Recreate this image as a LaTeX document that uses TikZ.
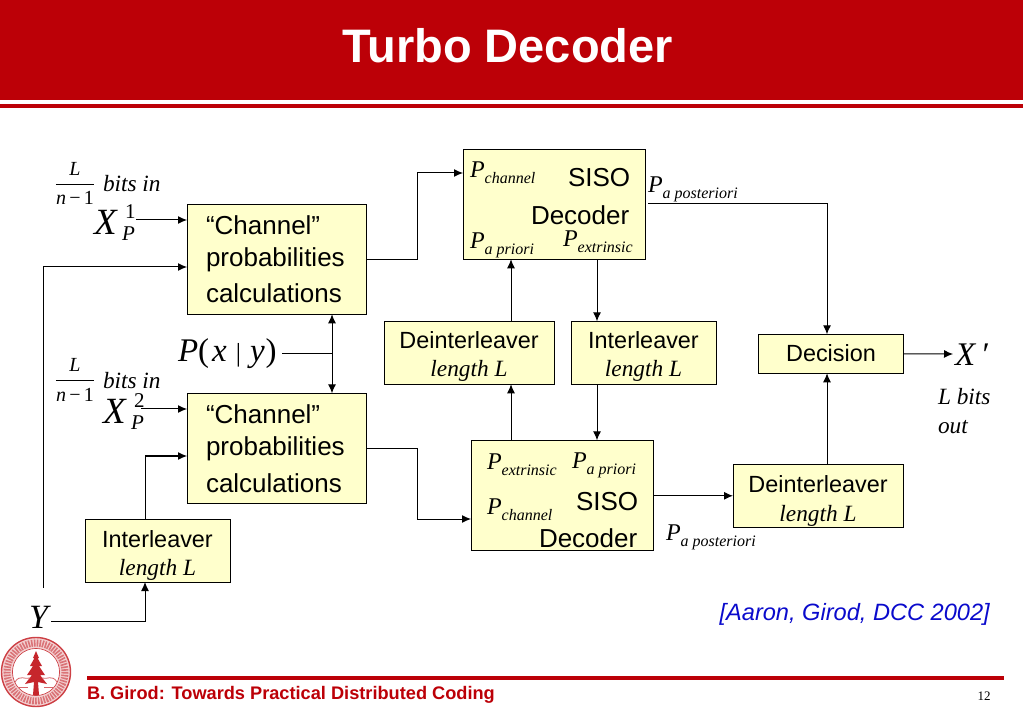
\documentclass[tikz,border=0pt]{standalone}
\usepackage{fontspec}
\setmainfont{Liberation Sans}
\newfontfamily\tms{Liberation Serif}
\usetikzlibrary{arrows.meta,calc}
\definecolor{hdr}{HTML}{BC0007}
\definecolor{boxy}{HTML}{FFFFCC}
\definecolor{cite}{HTML}{0A0ACC}
\newcommand\fs[1]{\fontsize{#1}{#1}\selectfont}
\newcommand\PS[1]{{\tms\itshape\fs{24}P\raisebox{-6pt}{\fs{16}#1}}}
\tikzset{
 x=1pt,y=-1pt,
 blk/.style={draw=black,fill=boxy,line width=1pt,rectangle,inner sep=0,outer sep=0},
 txt/.style={anchor=base west,inner sep=0,outer sep=0},
 mt/.style={txt,font=\fs{26}},
 st/.style={anchor=base,inner sep=0,outer sep=0,font=\fs{23.4}},
 it/.style={txt,font=\tms\itshape\fs{23.3}},
 arr/.style={line width=1pt,-{Latex[length=9pt,width=8pt]}},
 lin/.style={line width=1pt},
 darr/.style={line width=1pt,{Latex[length=9pt,width=8pt]}-{Latex[length=9pt,width=8pt]}},
 sealc/.style={draw=hdr!75!white,line width=0.8pt},
}
\begin{document}
\begin{tikzpicture}
\useasboundingbox (0,0) rectangle (1023,708);
% header
\fill[hdr] (0,0) rectangle (1023,100);
\fill[hdr] (0,104) rectangle (1023,108);
\node[anchor=base,inner sep=0,text=white,font=\bfseries\fs{47}] (title) at (507.5,63) {Turbo Decoder};
% footer
\fill[hdr] (87,676) rectangle (1004,680);
\node[txt,text=hdr,font=\bfseries\fs{18.2}] (foot) at (87,699) {B. Girod: Towards Practical Distributed Coding};
\node[anchor=base,inner sep=0,font=\tms\fs{13}] (page) at (984,700) {12};
\node[anchor=base east,inner sep=0,text=cite,font=\itshape\fs{23.6}] (citation) at (990,620) {[Aaron, Girod, DCC 2002]};
% seal
\fill[hdr!18!white] (36,672) circle (35);
\draw[sealc,line width=1.4pt] (36,672) circle (34.5);
\draw[hdr!55!white,line width=7pt,dash pattern=on 1.6pt off 1.2pt] (36,672) circle (29);
\draw[sealc] (36,672) circle (23.5);
\fill[white] (36,672) circle (23);
\fill[hdr!85!white] (36,651) -- (39,658) -- (37.5,658) -- (42,666) -- (39,666) -- (45,675) -- (40,675) -- (47,684) -- (38,682) -- (39,695) -- (33,695) -- (34,682) -- (25,684) -- (32,675) -- (27,675) -- (33,666) -- (30,666) -- (34.5,658) -- (33,658) -- cycle;
\draw[hdr!60!white,line width=0.8pt] (15,682) .. controls (20,674) and (25,680) .. (30,678);
\draw[hdr!60!white,line width=0.8pt] (42,678) .. controls (47,680) and (52,674) .. (57,682);
\draw[hdr!60!white,line width=0.8pt] (18,687) -- (28,687) (44,687) -- (54,687);
% blocks
\node[blk,minimum width=179pt,minimum height=110pt] (box1) at (276.5,259.3) {};
\node[blk,minimum width=179pt,minimum height=110pt] (box2) at (276.5,448.3) {};
\node[blk,minimum width=182pt,minimum height=110pt] (siso1) at (554,204.3) {};
\node[blk,minimum width=182pt,minimum height=110pt] (siso2) at (562,495.3) {};
\node[blk,minimum width=170pt,minimum height=63pt] (dei1) at (469,352.8) {};
\node[blk,minimum width=145pt,minimum height=63pt] (int1) at (643.5,352.8) {};
\node[blk,minimum width=145pt,minimum height=39pt] (dec) at (830.5,353.8) {};
\node[blk,minimum width=170pt,minimum height=63pt] (dei2) at (818,495.8) {};
\node[blk,minimum width=145pt,minimum height=63pt] (int2) at (157.5,550.8) {};
% block text
\node[mt] (c1a) at (206,235) {“Channel”};
\node[mt] (c1b) at (206,267) {probabilities};
\node[mt] (c1c) at (206,303) {calculations};
\node[mt] (c2a) at (206,424) {“Channel”};
\node[mt] (c2b) at (206,456) {probabilities};
\node[mt] (c2c) at (206,492) {calculations};
\node[mt] (s1a) at (568,187) {SISO};
\node[mt] (s1b) at (531,225) {Decoder};
\node[mt] (s2a) at (576,510) {SISO};
\node[mt] (s2b) at (539,547) {Decoder};
\node[txt] (p1) at (470,178) {\PS{channel}};
\node[txt] (p2) at (470,249) {\PS{a priori}};
\node[txt] (p3) at (563,247) {\PS{extrinsic}};
\node[txt] (p4) at (487,469) {\PS{extrinsic}};
\node[txt] (p5) at (572,468) {\PS{a priori}};
\node[txt] (p6) at (487,514) {\PS{channel}};
\node[txt] (p7) at (648,193) {\PS{a posteriori}};
\node[txt] (p8) at (666,540) {\PS{a posteriori}};
\node[st] (d1a) at (469,349) {Deinterleaver};
\node[st,font=\tms\itshape\fs{23.3}] (d1b) at (469,377) {length L};
\node[st] (i1a) at (643.5,349) {Interleaver};
\node[st,font=\tms\itshape\fs{23.3}] (i1b) at (643.5,377) {length L};
\node[st] (deca) at (831,362) {Decision};
\node[st] (d2a) at (818,493) {Deinterleaver};
\node[st,font=\tms\itshape\fs{23.3}] (d2b) at (818,521) {length L};
\node[st] (i2a) at (157.5,547) {Interleaver};
\node[st,font=\tms\itshape\fs{23.3}] (i2b) at (157.5,575) {length L};
% left labels
\node[anchor=base,inner sep=0,font=\tms\itshape\fs{20}] (l1) at (75,176) {L};
\node[anchor=base,inner sep=0,font=\tms\fs{20}] (n1) at (75,205) {\itshape n\,\upshape −\,1};
\draw[line width=0.7pt] (n1.north west |- 0,184) -- (n1.north east |- 0,184);
\node[it] (b1) at (103,192) {bits in};
\node[anchor=base,inner sep=0,font=\tms\itshape\fs{20}] (l2) at (75,372) {L};
\node[anchor=base,inner sep=0,font=\tms\fs{20}] (n2) at (75,402) {\itshape n\,\upshape −\,1};
\draw[line width=0.7pt] (n2.north west |- 0,380) -- (n2.north east |- 0,380);
\node[it] (b2) at (103,389) {bits in};
\node[txt,font=\tms\itshape\fs{37}] (x1) at (94,235) {X};
\node[txt,font=\tms\fs{21}] (x1s) at (125,219) {1};
\node[txt,font=\tms\itshape\fs{21}] (x1p) at (122,241) {P};
\node[txt,font=\tms\itshape\fs{37}] (x2) at (103,424) {X};
\node[txt,font=\tms\fs{21}] (x2s) at (134,408) {2};
\node[txt,font=\tms\itshape\fs{21}] (x2p) at (131,430) {P};
\node[txt,font=\tms\itshape\fs{33}] (pxy) at (178,362) {P{\upshape(}\hspace{3pt}x\hspace{9pt}{\upshape\fs{26}|}\hspace{9pt}y\hspace{1pt}{\upshape)}};
\node[txt,font=\tms\itshape\fs{34}] (y) at (29,628) {Y};
\node[txt,font=\tms\itshape\fs{33}] (xo) at (955,366) {X\,′};
\node[it] (o1) at (938,405) {L bits};
\node[it] (o2) at (938,434) {out};
% free ends
\coordinate (x1o) at (136,220);
\coordinate (x2o) at (141,409);
\coordinate (ys) at (43,588);
\coordinate (yo) at (51,621);
\coordinate (pxo) at (282,354);
\coordinate (po) at (648,204);
\coordinate (busx) at (332,354);
\coordinate (int2t) at (145,519);
\coordinate (int2b) at (145,582);
% connectors
\draw[arr] (x1o) -- (x1o -| box1.west);
\draw[arr] (x2o) -- (x2o -| box2.west);
\draw[arr] (ys) -- (43,267) -- (box1.west |- 0,267);
\draw[arr] (yo) -| (int2b);
\draw[arr] (int2t) |- (box2.west |- 0,456);
\draw[arr] (box1.east |- 0,260) -- (417,260) |- (siso1.west |- 0,173);
\draw[arr] (box2.east |- 0,449) -- (417,449) |- (siso2.west |- 0,519);
\draw[arr] (dei1.north -| 511,0) -- (siso1.south -| 511,0);
\draw[arr] (siso1.south -| 597,0) -- (int1.north -| 597,0);
\draw[arr] (int1.south -| 597,0) -- (siso2.north -| 597,0);
\draw[arr] (siso2.north -| 511,0) -- (dei1.south -| 511,0);
\draw[arr] (siso2.east |- dei2.west) -- (dei2.west);
\draw[arr] (dei2.north -| 827,0) -- (dec.south -| 827,0);
\draw[arr] (po) -| (dec.north -| 827,0);
\draw[arr] (dec.east) -- (953,354);
\draw[lin] (pxo) -- (busx);
\draw[darr] (busx |- box1.south) -- (busx |- box2.north);
\end{tikzpicture}
\end{document}
